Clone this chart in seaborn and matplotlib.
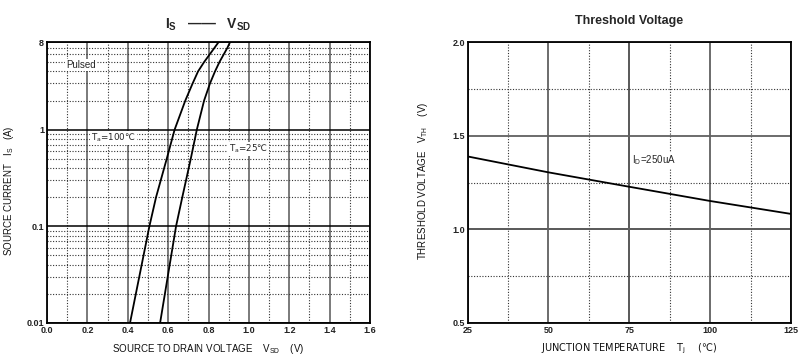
import matplotlib
matplotlib.use("Agg")
import matplotlib.pyplot as plt
import matplotlib.ticker as mticker
import seaborn as sns
import pandas as pd

# Is - Vsd curves
is_current = [0.01, 0.1, 0.2, 0.5, 1, 2, 3, 4, 5, 7, 8]
vsd_25c = [0.560, 0.639, 0.670, 0.712, 0.742, 0.778, 0.807, 0.832, 0.854, 0.893, 0.906]
vsd_100c = [0.411, 0.507, 0.540, 0.593, 0.632, 0.685, 0.721, 0.748, 0.778, 0.829, 0.849]

# Threshold voltage vs junction temperature
tj = [25, 50, 75, 100, 125]
vth = [1.39, 1.305, 1.228, 1.152, 1.083]

x_ticks_left = [0.0, 0.2, 0.4, 0.6, 0.8, 1.0, 1.2, 1.4, 1.6]
y_ticks_left = [0.01, 0.1, 1, 8]
x_ticks_right = [25, 50, 75, 100, 125]
y_ticks_right = [0.5, 1.0, 1.5, 2.0]

sns.set_style("white")
plt.rcParams["font.family"] = ["Liberation Sans", "DejaVu Sans"]
plt.rcParams["mathtext.fontset"] = "custom"
plt.rcParams["mathtext.rm"] = "Liberation Sans"
plt.rcParams["mathtext.it"] = "Liberation Sans:italic"
plt.rcParams["mathtext.bf"] = "Liberation Sans:bold"

df_is = pd.concat([
    pd.DataFrame({"vsd": vsd_25c, "is": is_current, "temp": "25"}),
    pd.DataFrame({"vsd": vsd_100c, "is": is_current, "temp": "100"}),
])
df_vth = pd.DataFrame({"tj": tj, "vth": vth})

fig = plt.figure(figsize=(8.08, 3.58), dpi=100)
ax1 = fig.add_axes([0.0582, 0.0978, 0.3998, 0.784])
ax2 = fig.add_axes([0.5788, 0.0978, 0.4001, 0.784])

tick_kw = dict(fontsize=6.5, fontweight="bold", color="#222222")
label_kw = dict(fontsize=7, color="#111111")
# Liberation Sans has no ℃, and mathtext does not fall back, so those texts use DejaVu
celsius_kw = dict(family="DejaVu Sans", math_fontfamily="dejavusans")
white_box = dict(facecolor="white", edgecolor="none", pad=0.8)

# ---- left: Is vs Vsd ----
sns.lineplot(data=df_is, x="vsd", y="is", hue="temp", units="temp", estimator=None,
             sort=False, palette=["black", "black"], linewidth=1.3, legend=False, ax=ax1)
ax1.set_yscale("log")
ax1.set_xlim(0, 1.6)
ax1.set_ylim(0.01, 8)
ax1.set_xticks(x_ticks_left)
ax1.set_xticklabels([f"{v:.1f}" for v in x_ticks_left], **tick_kw)
ax1.xaxis.set_minor_locator(mticker.MultipleLocator(0.1))
ax1.set_yticks(y_ticks_left)
ax1.set_yticklabels(["0.01", "0.1", "1", "8"], **tick_kw)
ax1.yaxis.set_minor_locator(mticker.LogLocator(base=10, subs=range(2, 10)))
ax1.yaxis.set_minor_formatter(mticker.NullFormatter())
ax1.tick_params(which="both", length=0, pad=2)
ax1.grid(which="major", axis="x", color="#707070", linewidth=1.3, linestyle="-")
ax1.grid(which="minor", axis="x", color="#333333", linewidth=0.8, linestyle=(0, (1, 1.5)))
ax1.grid(which="major", axis="y", color="black", linewidth=1.1, linestyle="-")
ax1.grid(which="minor", axis="y", color="#333333", linewidth=0.8, linestyle=(0, (1, 1.5)))
ax1.set_axisbelow(True)
for s in ax1.spines.values():
    s.set_color("black")
    s.set_linewidth(1.3)

ax1.set_xlabel(r"SOURCE TO DRAIN VOLTAGE    V$_\mathrm{SD}$    (V)", **label_kw)
ax1.set_ylabel(r"SOURCE CURRENT   I$_\mathrm{S}$   (A)", **label_kw)
ax1.xaxis.set_label_coords(0.498, -0.066)
ax1.yaxis.set_label_coords(-0.096, 0.47)
ax1.set_title(r"I$_\mathbf{S}$   ——   V$_\mathbf{SD}$", fontsize=10, fontweight="bold", pad=10)

ax1.text(0.095, 4.7, "Pulsed", fontsize=7, ha="left", va="center", bbox=white_box)
ax1.text(0.22, 0.82, r"T$_\mathrm{a}$=100℃", fontsize=6.3, ha="left", va="center",
         bbox=white_box, **celsius_kw)
ax1.text(0.9, 0.63, r"T$_\mathrm{a}$=25℃", fontsize=6.3, ha="left", va="center",
         bbox=white_box, **celsius_kw)

# ---- right: threshold voltage ----
sns.lineplot(data=df_vth, x="tj", y="vth", color="black", linewidth=1.3, ax=ax2)
ax2.set_xlim(25, 125)
ax2.set_ylim(0.5, 2.0)
ax2.set_xticks(x_ticks_right)
ax2.set_xticklabels([str(v) for v in x_ticks_right], **tick_kw)
ax2.xaxis.set_minor_locator(mticker.MultipleLocator(12.5))
ax2.set_yticks(y_ticks_right)
ax2.set_yticklabels([f"{v:.1f}" for v in y_ticks_right], **tick_kw)
ax2.yaxis.set_minor_locator(mticker.MultipleLocator(0.25))
ax2.tick_params(which="both", length=0, pad=2)
ax2.grid(which="major", color="#606060", linewidth=1.3, linestyle="-")
ax2.grid(which="minor", color="#333333", linewidth=0.8, linestyle=(0, (1, 1.5)))
ax2.axvline(75, color="black", linewidth=1.1, zorder=0.5)
ax2.axhline(1.0, color="black", linewidth=1.1, zorder=0.5)
ax2.set_axisbelow(True)
for s in ax2.spines.values():
    s.set_color("black")
    s.set_linewidth(1.3)

ax2.set_xlabel(r"JUNCTION TEMPERATURE    T$_\mathrm{j}$    (℃)", fontsize=7, color="#111111",
               **celsius_kw)
ax2.xaxis.set_label_coords(0.5, -0.066)
ax2.set_ylabel(r"THRESHOLD VOLTAGE   V$_\mathrm{TH}$    (V)", **label_kw)
ax2.yaxis.set_label_coords(-0.117, 0.506)
ax2.set_title("Threshold Voltage", fontsize=9, fontweight="bold", pad=13)

ax2.text(75.8, 1.37, r"I$_\mathrm{D}$=250uA", fontsize=7, ha="left", va="center", bbox=white_box)

fig.savefig("out.png", dpi=100)
